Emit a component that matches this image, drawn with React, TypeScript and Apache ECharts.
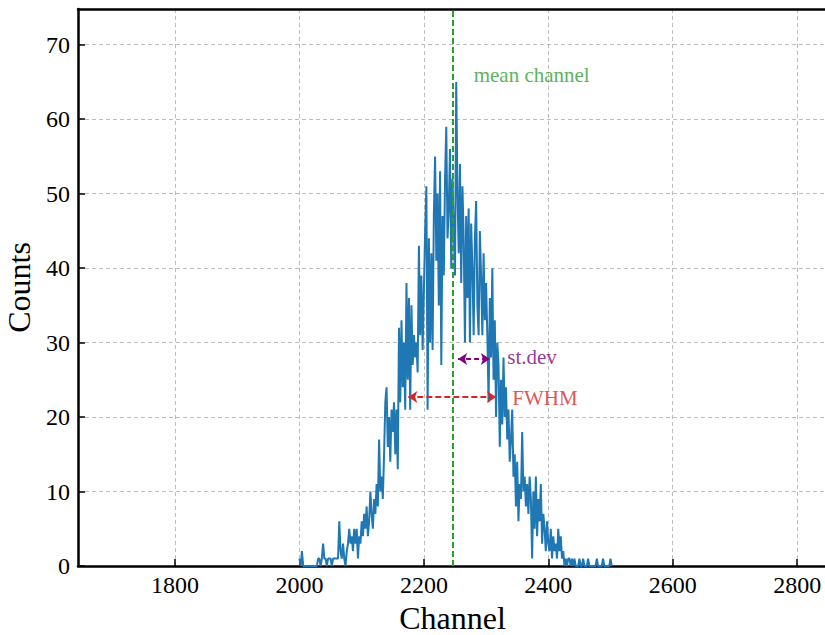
import React, { useEffect, useRef } from "react";
import * as echarts from "echarts";

// Channel of the first count, and channel step between counts
const channelStart = 2000;
const channelStep = 2;
// Counts per channel
const counts = [
  1, 0, 2, 0, 0, 0, 0, 0, 0, 0,
  0, 0, 0, 0, 0, 1, 1, 0, 1, 3,
  1, 1, 0, 1, 1, 1, 0, 1, 1, 1,
  1, 1, 6, 2, 1, 3, 1, 0, 2, 3,
  5, 3, 4, 2, 5, 3, 5, 1, 4, 3,
  6, 4, 7, 5, 8, 4, 6, 10, 7, 5,
  9, 7, 11, 8, 17, 10, 12, 9, 15, 22,
  24, 16, 20, 14, 21, 18, 22, 15, 21, 13,
  32, 22, 33, 24, 30, 21, 38, 25, 36, 21,
  35, 27, 31, 28, 30, 26, 43, 31, 39, 29,
  37, 45, 51, 21, 44, 30, 42, 29, 47, 55,
  41, 50, 35, 53, 27, 47, 39, 52, 59, 44,
  48, 56, 40, 52, 45, 39, 65, 50, 42, 54,
  38, 51, 44, 30, 47, 36, 48, 30, 46, 40,
  31, 44, 49, 35, 31, 45, 39, 31, 42, 33,
  38, 31, 22, 36, 28, 40, 25, 33, 20, 30,
  27, 16, 25, 19, 28, 20, 24, 17, 21, 14,
  17, 21, 12, 15, 8, 14, 6, 11, 9, 18,
  10, 12, 8, 11, 7, 12, 9, 1, 10, 5,
  12, 4, 9, 6, 11, 3, 7, 5, 2, 6,
  3, 2, 5, 1, 4, 2, 3, 1, 5, 2,
  4, 1, 2, 0, 1, 0, 1, 1, 0, 1,
  0, 1, 0, 0, 0, 1, 0, 0, 1, 0,
  0, 0, 1, 0, 0, 0, 0, 0, 0, 1,
  0, 0, 0, 0, 1, 0, 0, 0, 0, 0,
  1, 0,
];

const meanChannel = 2247;
const stdevArrow = { from: 2255, to: 2306, y: 27.8 };
const fwhmArrow = { from: 2175, to: 2316, y: 22.7 };
const annotations = [
  { text: "mean channel", x: 2280, y: 66, color: "#2ca02c" },
  { text: "st.dev", x: 2334, y: 28.0, color: "#800080" },
  { text: "FWHM", x: 2342, y: 22.5, color: "#d62728" },
];

const xRange = [1644, 2848];
const yRange = [0, 74.8];

const FONT = "'Liberation Serif', 'DejaVu Serif', serif";

export default function App() {
  const ref = useRef<HTMLDivElement>(null);
  useEffect(() => {
    if (!ref.current) return;
    const chart = echarts.init(ref.current, null, { renderer: "svg" });
    const data = counts.map((v, i) => [channelStart + i * channelStep, v]);
    const gridDash = { color: "#bdbdbd", type: [4, 3] as any, width: 1 };
    chart.setOption({
      animation: false,
      backgroundColor: "#fff",
      textStyle: { fontFamily: FONT },
      grid: {
        left: 78,
        top: 9,
        right: -2,
        bottom: 69,
        show: false,
        outerBoundsMode: "none",
        containLabel: false,
      },
      xAxis: [
        {
          type: "value",
          min: xRange[0],
          max: xRange[1],
          name: "Channel",
          nameLocation: "middle",
          nameGap: 32,
          nameTextStyle: { fontFamily: FONT, fontSize: 32, color: "#000" },
          axisLine: { show: true, onZero: false, lineStyle: { color: "#000", width: 2.5 } },
          axisTick: { show: true, inside: true, length: 7, lineStyle: { color: "#000", width: 1.5 } },
          axisLabel: {
            fontFamily: FONT,
            fontSize: 24,
            color: "#000",
            margin: 7,
            showMinLabel: false,
            showMaxLabel: false,
            formatter: (v: number) => String(v),
          },
          splitLine: { show: true, lineStyle: gridDash },
        },
        {
          type: "value",
          position: "top",
          min: xRange[0],
          max: xRange[1],
          axisLine: { show: true, onZero: false, lineStyle: { color: "#000", width: 2.5 } },
          axisTick: { show: false },
          axisLabel: { show: false },
          splitLine: { show: false },
        },
      ],
      yAxis: {
        type: "value",
        min: yRange[0],
        max: yRange[1],
        interval: 10,
        name: "Counts",
        nameLocation: "middle",
        nameGap: 42,
        nameRotate: 90,
        nameTextStyle: { fontFamily: FONT, fontSize: 32, color: "#000" },
        axisLine: { show: true, lineStyle: { color: "#000", width: 2.5 } },
        axisTick: { show: true, inside: true, length: 7, lineStyle: { color: "#000", width: 1.5 } },
        axisLabel: {
          fontFamily: FONT,
          fontSize: 24,
          color: "#000",
          margin: 8,
          showMaxLabel: false,
        },
        splitLine: { show: true, lineStyle: gridDash },
      },
      series: [
        {
          type: "line",
          data,
          showSymbol: false,
          symbol: "none",
          lineStyle: { color: "#1f77b4", width: 2 },
          z: 2,
          markLine: {
            silent: true,
            symbol: "none",
            label: { show: false },
            z: 5,
            data: [
              {
                xAxis: meanChannel,
                lineStyle: { color: "#2ca02c", type: [6, 3], width: 2 },
              },
            ],
          },
        },
        {
          type: "line",
          data: [],
          markLine: {
            silent: true,
            symbol: ["arrow", "arrow"],
            symbolSize: [9, 9],
            label: { show: false },
            z: 6,
            data: [
              [
                { coord: [stdevArrow.from, stdevArrow.y], lineStyle: { color: "#800080", type: [5, 3], width: 2 }, itemStyle: { color: "#800080" } },
                { coord: [stdevArrow.to, stdevArrow.y] },
              ],
              [
                { coord: [fwhmArrow.from, fwhmArrow.y], lineStyle: { color: "#d62728", type: [6, 3], width: 2 }, itemStyle: { color: "#d62728" } },
                { coord: [fwhmArrow.to, fwhmArrow.y] },
              ],
            ],
          },
        },
        {
          type: "scatter",
          symbolSize: 0,
          silent: true,
          z: 7,
          data: annotations.map((a) => ({
            value: [a.x, a.y],
            label: {
              show: true,
              position: "right",
              distance: 0,
              formatter: a.text,
              color: a.color,
              fontFamily: FONT,
              fontSize: 21,
            },
          })),
        },
      ],
    });
    return () => chart.dispose();
  }, []);
  return (
    <div
      ref={ref}
      style={{ position: "fixed", left: 0, top: 0, width: 825, height: 635, background: "#fff" }}
    />
  );
}
